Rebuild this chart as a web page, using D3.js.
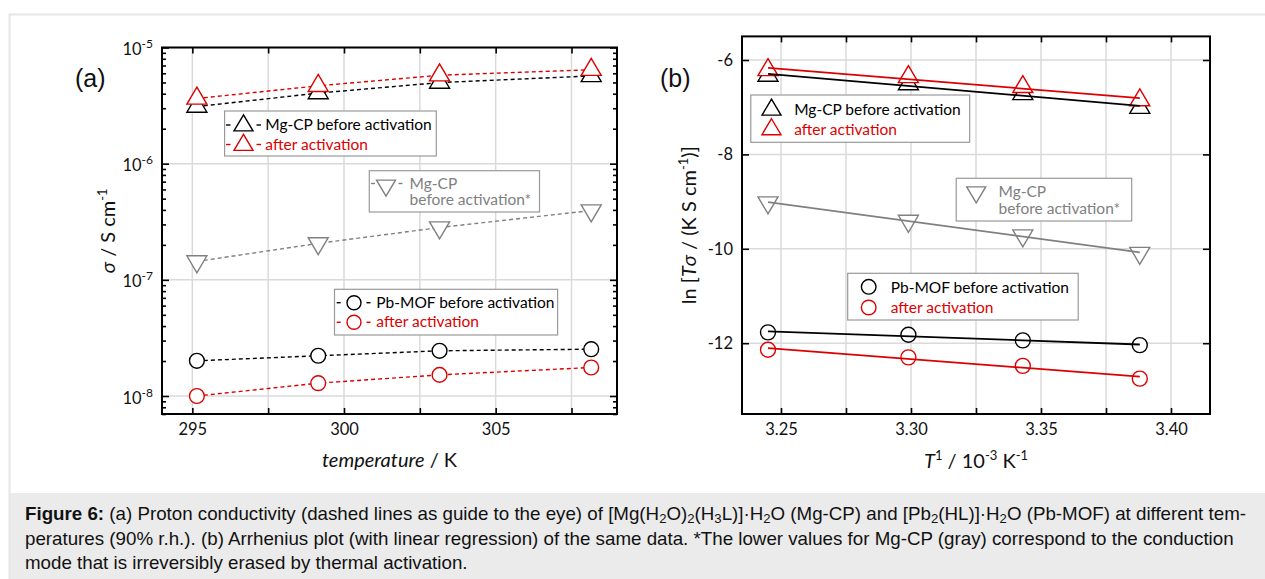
<!DOCTYPE html>
<html><head><meta charset="utf-8">
<script src="https://cdn.jsdelivr.net/npm/d3@7"></script>
<style>body{margin:0;background:#fff}svg{display:block}</style>
</head><body>
<svg id="c" width="1265" height="579"></svg>
<script>
// ---------- DATA ----------
// Panel (a): conductivity vs temperature
const temperature = [295.15, 299.15, 303.15, 308.15];
const sigmaMgBefore = [3.10e-6, 4.05e-6, 4.99e-6, 5.69e-6];
const sigmaMgAfter  = [3.64e-6, 4.68e-6, 5.77e-6, 6.44e-6];
const sigmaMgStar   = [1.44e-7, 2.06e-7, 2.82e-7, 3.95e-7];
const sigmaPbBefore = [2.01e-8, 2.22e-8, 2.45e-8, 2.53e-8];
const sigmaPbAfter  = [1.00e-8, 1.29e-8, 1.52e-8, 1.76e-8];
const xTicksA = [295, 297.5, 300, 302.5, 305, 307.5];
const xLabelsA = {295: "295", 300: "300", 305: "305"};
const yMajorA = [1e-8, 1e-7, 1e-6, 1e-5];
const yExpA = ["-8", "-7", "-6", "-5"];
// Panel (b): Arrhenius plot
const invT = [3.245, 3.299, 3.343, 3.388];
const lnMgBefore = [-6.33, -6.51, -6.72, -7.01];
const lnMgAfter  = [-6.21, -6.36, -6.57, -6.85];
const lnMgStar   = [-9.02, -9.41, -9.72, -10.09];
const lnPbBefore = [-11.77, -11.82, -11.94, -12.04];
const lnPbAfter  = [-12.14, -12.30, -12.48, -12.75];
const xTicksB = [3.25, 3.275, 3.30, 3.325, 3.35, 3.375, 3.40];
const xLabelsB = {"3.25": "3.25", "3.3": "3.30", "3.35": "3.35", "3.4": "3.40"};
const yTicksB = [-6, -8, -10, -12];
const yLabelsB = ["-6", "-8", "-10", "-12"];
// Caption
const captionLines = [
  [["Figure 6:", "b"], [" (a) Proton conductivity (dashed lines as guide to the eye) of [Mg(H"], ["2", "s"], ["O)"], ["2", "s"], ["(H"], ["3", "s"], ["L)]·H"], ["2", "s"], ["O (Mg-CP) and [Pb"], ["2", "s"], ["(HL)]·H"], ["2", "s"], ["O (Pb-MOF) at different tem-"]],
  [["peratures (90% r.h.). (b) Arrhenius plot (with linear regression) of the same data. *The lower values for Mg-CP (gray) correspond to the conduction"]],
  [["mode that is irreversibly erased by thermal activation."]]
];

// ---------- STYLE ----------
const RED = "#dc0000", GRAY = "#808080", BLACK = "#000";
const FONT = "Lato, 'Open Sans', sans-serif";
const GRID = "#dadada";

const svg = d3.select("#c");
svg.append("rect").attr("x", 9).attr("y", 493).attr("width", 1256).attr("height", 86).attr("fill", "#ebebeb");
svg.append("path").attr("d", "M9.5,579V14.5H1265").attr("fill", "none").attr("stroke", "#e6e6e6").attr("stroke-width", 2);

function triPath(x, y, up, w, h) {
  if (up) return `M${x},${y - 2 * h / 3}L${x + w / 2},${y + h / 3}L${x - w / 2},${y + h / 3}Z`;
  return `M${x},${y + 2 * h / 3}L${x + w / 2},${y - h / 3}L${x - w / 2},${y - h / 3}Z`;
}
function marker(g, x, y, type, color, w = 20, h = 17, r = 7.4) {
  if (type === "circle") {
    g.append("circle").attr("cx", x).attr("cy", y).attr("r", r)
      .attr("fill", "#fff").attr("stroke", color).attr("stroke-width", 1.4);
  } else {
    g.append("path").attr("d", triPath(x, y, type === "up", w, h))
      .attr("fill", "#fff").attr("stroke", color).attr("stroke-width", 1.4).attr("stroke-linejoin", "miter");
  }
}
function styleAxis(g) {
  g.select(".domain").remove();
  g.selectAll(".tick line").attr("stroke", "#000").attr("stroke-width", 1.6);
  g.selectAll(".tick text").attr("font-family", FONT).attr("font-size", 16.5).attr("fill", "#111");
}
function legendBox(g, x0, y0, x1, y1) {
  g.append("rect").attr("x", x0).attr("y", y0).attr("width", x1 - x0).attr("height", y1 - y0)
    .attr("fill", "#fff").attr("stroke", "#9a9a9a").attr("stroke-width", 1.2);
}
function legendText(g, x, y, txt, color) {
  g.append("text").attr("x", x).attr("y", y).attr("font-family", FONT).attr("font-size", 15.5)
    .attr("fill", color).text(txt);
}
function dashPair(g, xs, y, color) {
  xs.forEach(([a, b]) => g.append("line").attr("x1", a).attr("x2", b).attr("y1", y).attr("y2", y)
    .attr("stroke", color).attr("stroke-width", 1.4));
}

// ================= PANEL A =================
const A = {l: 162, r: 617, t: 47.5, b: 414};
const xA = d3.scaleLinear().domain([294, 309]).range([A.l, A.r]);
const yA = d3.scaleLog().domain([7e-9, 1e-5]).range([A.b, A.t]);
const gA = svg.append("g");

// grid
gA.selectAll(".vg").data(xTicksA).join("line")
  .attr("x1", d => xA(d)).attr("x2", d => xA(d)).attr("y1", A.t).attr("y2", A.b)
  .attr("stroke", GRID).attr("stroke-width", 1.5);
gA.selectAll(".hg").data(yMajorA).join("line")
  .attr("x1", A.l).attr("x2", A.r).attr("y1", d => yA(d)).attr("y2", d => yA(d))
  .attr("stroke", GRID).attr("stroke-width", 1.5);

// axes
const axB = gA.append("g").attr("transform", `translate(0,${A.b})`)
  .call(d3.axisBottom(xA).tickValues(xTicksA).tickSizeInner(-6).tickSizeOuter(0).tickPadding(9)
    .tickFormat(d => xLabelsA[d] || ""));
styleAxis(axB);
axB.selectAll(".tick text").attr("dy", "0.75em");
styleAxis(gA.append("g").attr("transform", `translate(0,${A.t})`)
  .call(d3.axisTop(xA).tickValues(xTicksA).tickSizeInner(-6).tickSizeOuter(0).tickFormat("")));
const minorA = yA.ticks().filter(v => !yMajorA.some(m => Math.abs(m - v) / m < 1e-6));
const axL = gA.append("g").attr("transform", `translate(${A.l},0)`)
  .call(d3.axisLeft(yA).tickValues(yMajorA).tickSizeInner(-7).tickSizeOuter(0).tickPadding(22).tickFormat(() => ""));
styleAxis(axL);
axL.selectAll(".tick text").each(function (d, i) {
  const t = d3.select(this);
  t.attr("text-anchor", "end").attr("dy", null).attr("y", 7).attr("x", -9);
  t.text("10");
  t.append("tspan").attr("dy", -7).attr("font-size", 12).text(yExpA[i]);
});
styleAxis(gA.append("g").attr("transform", `translate(${A.l},0)`)
  .call(d3.axisLeft(yA).tickValues(minorA).tickSizeInner(-4).tickSizeOuter(0).tickFormat("")));
styleAxis(gA.append("g").attr("transform", `translate(${A.r},0)`)
  .call(d3.axisRight(yA).tickValues(yMajorA).tickSizeInner(-7).tickSizeOuter(0).tickFormat("")));
styleAxis(gA.append("g").attr("transform", `translate(${A.r},0)`)
  .call(d3.axisRight(yA).tickValues(minorA).tickSizeInner(-4).tickSizeOuter(0).tickFormat("")));

const seriesA = [
  {v: sigmaMgStar, c: GRAY, m: "down"},
  {v: sigmaPbBefore, c: BLACK, m: "circle"},
  {v: sigmaPbAfter, c: RED, m: "circle"},
  {v: sigmaMgBefore, c: BLACK, m: "up"},
  {v: sigmaMgAfter, c: RED, m: "up"}
];
const lineA = d3.line().x(d => xA(d[0])).y(d => yA(d[1]));
seriesA.forEach(s => {
  gA.append("path").attr("d", lineA(temperature.map((t, i) => [t, s.v[i]])))
    .attr("fill", "none").attr("stroke", s.c).attr("stroke-width", 1.4).attr("stroke-dasharray", "4,3");
});
seriesA.forEach(s => temperature.forEach((t, i) => marker(gA, xA(t), yA(s.v[i]), s.m, s.c)));

// frame
gA.append("rect").attr("x", A.l).attr("y", A.t).attr("width", A.r - A.l).attr("height", A.b - A.t)
  .attr("fill", "none").attr("stroke", "#000").attr("stroke-width", 2);

// legends A
legendBox(gA, 224.6, 111, 436.3, 156);
dashPair(gA, [[226, 230.5], [256.5, 261]], 125, BLACK); marker(gA, 243.5, 125.5, "up", BLACK, 19, 16);
legendText(gA, 265.3, 130, "Mg-CP before activation", BLACK);
dashPair(gA, [[226, 230.5], [256.5, 261]], 144.5, RED); marker(gA, 243.5, 145, "up", RED, 19, 16);
legendText(gA, 265.3, 149.5, "after activation", RED);

legendBox(gA, 369.3, 170.7, 539.5, 212);
dashPair(gA, [[371, 375], [398.5, 402.5]], 183.5, GRAY); marker(gA, 386, 185.5, "down", GRAY, 19, 16);
legendText(gA, 409.6, 188.5, "Mg-CP", GRAY);
legendText(gA, 409.6, 204.5, "before activation*", GRAY);

legendBox(gA, 334.5, 289.3, 557.6, 335);
dashPair(gA, [[336.7, 340.7], [366.5, 370.5]], 302.7, BLACK); marker(gA, 354, 302.7, "circle", BLACK, 0, 0, 7);
legendText(gA, 376.3, 308, "Pb-MOF before activation", BLACK);
dashPair(gA, [[336.7, 340.7], [366.5, 370.5]], 322.3, RED); marker(gA, 354, 322.3, "circle", RED, 0, 0, 7);
legendText(gA, 376.3, 327.3, "after activation", RED);

// titles A
const TITLE = 20;
const tA = gA.append("text").attr("x", (A.l + A.r) / 2).attr("y", 467).attr("text-anchor", "middle")
  .attr("font-family", FONT).attr("font-size", TITLE).attr("fill", "#111");
tA.append("tspan").attr("font-style", "italic").text("temperature");
tA.append("tspan").text(" / K");
const yTA = gA.append("text").attr("transform", `translate(115,${(A.t + A.b) / 2}) rotate(-90)`)
  .attr("text-anchor", "middle").attr("font-family", FONT).attr("font-size", TITLE).attr("fill", "#111");
yTA.append("tspan").attr("font-style", "italic").text("σ");
yTA.append("tspan").text(" / S cm");
yTA.append("tspan").attr("dy", -8).attr("font-size", 13).text("-1");
svg.append("text").attr("x", 75).attr("y", 87).attr("font-family", "'Liberation Sans', Arial, sans-serif")
  .attr("font-size", 25).attr("fill", "#111").text("(a)");

// ================= PANEL B =================
const B = {l: 742, r: 1210, t: 36.4, b: 414};
const xB = d3.scaleLinear().domain([3.235, 3.415]).range([B.l, B.r]);
const yB = d3.scaleLinear().domain([-13.5, -5.5]).range([B.b, B.t]);
const gB = svg.append("g");

gB.selectAll(".vg").data(xTicksB).join("line")
  .attr("x1", d => xB(d)).attr("x2", d => xB(d)).attr("y1", B.t).attr("y2", B.b)
  .attr("stroke", GRID).attr("stroke-width", 1.5);
gB.selectAll(".hg").data(yTicksB).join("line")
  .attr("x1", B.l).attr("x2", B.r).attr("y1", d => yB(d)).attr("y2", d => yB(d))
  .attr("stroke", GRID).attr("stroke-width", 1.5);

const bxB = gB.append("g").attr("transform", `translate(0,${B.b})`)
  .call(d3.axisBottom(xB).tickValues(xTicksB).tickSizeInner(-6).tickSizeOuter(0).tickPadding(9)
    .tickFormat(d => xLabelsB[String(+d.toFixed(3))] || ""));
styleAxis(bxB);
bxB.selectAll(".tick text").attr("dy", "0.75em");
styleAxis(gB.append("g").attr("transform", `translate(0,${B.t})`)
  .call(d3.axisTop(xB).tickValues(xTicksB).tickSizeInner(-6).tickSizeOuter(0).tickFormat("")));
const lyB = gB.append("g").attr("transform", `translate(${B.l},0)`)
  .call(d3.axisLeft(yB).tickValues(yTicksB).tickSizeInner(-7).tickSizeOuter(0).tickPadding(9)
    .tickFormat((d, i) => yLabelsB[i]));
styleAxis(lyB);
styleAxis(gB.append("g").attr("transform", `translate(${B.r},0)`)
  .call(d3.axisRight(yB).tickValues(yTicksB).tickSizeInner(-7).tickSizeOuter(0).tickFormat("")));

function linfit(xs, ys) {
  const mx = d3.mean(xs), my = d3.mean(ys);
  const sxy = d3.sum(xs, (x, i) => (x - mx) * (ys[i] - my));
  const sxx = d3.sum(xs, x => (x - mx) * (x - mx));
  const k = sxy / sxx;
  return x => my + k * (x - mx);
}
const seriesB = [
  {v: lnMgStar, c: GRAY, m: "down"},
  {v: lnPbBefore, c: BLACK, m: "circle"},
  {v: lnPbAfter, c: RED, m: "circle"},
  {v: lnMgBefore, c: BLACK, m: "up"},
  {v: lnMgAfter, c: RED, m: "up"}
];
seriesB.forEach(s => invT.forEach((x, i) => marker(gB, xB(x), yB(s.v[i]), s.m, s.c, 20, 17, 7.5)));
seriesB.forEach(s => {
  const f = linfit(invT, s.v);
  const x0 = invT[0], x1 = invT[invT.length - 1];
  gB.append("line").attr("x1", xB(x0)).attr("y1", yB(f(x0))).attr("x2", xB(x1)).attr("y2", yB(f(x1)))
    .attr("stroke", s.c).attr("stroke-width", 1.8);
});
gB.append("rect").attr("x", B.l).attr("y", B.t).attr("width", B.r - B.l).attr("height", B.b - B.t)
  .attr("fill", "none").attr("stroke", "#000").attr("stroke-width", 2);

// legends B
legendBox(gB, 750.8, 95, 969.7, 142.3);
marker(gB, 771.5, 109.8, "up", BLACK, 19, 16);
legendText(gB, 794.2, 115, "Mg-CP before activation", BLACK);
marker(gB, 771.5, 129.4, "up", RED, 19, 16);
legendText(gB, 794.2, 134.5, "after activation", RED);

legendBox(gB, 956.2, 178.3, 1131.7, 221);
marker(gB, 976.2, 192.2, "down", GRAY, 19, 16);
legendText(gB, 998.5, 196.7, "Mg-CP", GRAY);
legendText(gB, 998.5, 214.3, "before activation*", GRAY);

legendBox(gB, 847.7, 273.3, 1078.2, 320);
marker(gB, 868.7, 286.8, "circle", BLACK, 0, 0, 7.3);
legendText(gB, 890.7, 293, "Pb-MOF before activation", BLACK);
marker(gB, 868.7, 307.5, "circle", RED, 0, 0, 7.3);
legendText(gB, 890.7, 312.7, "after activation", RED);

// titles B
const tB = gB.append("text").attr("x", (B.l + B.r) / 2).attr("y", 468).attr("text-anchor", "middle")
  .attr("font-family", FONT).attr("font-size", TITLE).attr("fill", "#111");
tB.append("tspan").attr("font-style", "italic").text("T");
tB.append("tspan").attr("dy", -8).attr("font-size", 13).text("1");
tB.append("tspan").attr("dy", 8).text(" / 10");
tB.append("tspan").attr("dy", -8).attr("font-size", 13).text("-3");
tB.append("tspan").attr("dy", 8).text(" K");
tB.append("tspan").attr("dy", -8).attr("font-size", 13).text("-1");
const yTB = gB.append("text").attr("transform", `translate(696,${(B.t + B.b) / 2}) rotate(-90)`)
  .attr("text-anchor", "middle").attr("font-family", FONT).attr("font-size", TITLE).attr("fill", "#111");
yTB.append("tspan").text("ln [");
yTB.append("tspan").attr("font-style", "italic").text("Tσ");
yTB.append("tspan").text(" / (K S cm");
yTB.append("tspan").attr("dy", -8).attr("font-size", 13).text("-1");
yTB.append("tspan").attr("dy", 8).text(")]");
svg.append("text").attr("x", 660).attr("y", 87).attr("font-family", "'Liberation Sans', Arial, sans-serif")
  .attr("font-size", 25).attr("fill", "#111").text("(b)");

// ================= CAPTION =================
const capG = svg.append("g");
let capSize = 16;
const capTexts = captionLines.map((segs, li) => {
  const t = capG.append("text").attr("x", 25).attr("y", 520 + li * 24.5)
    .attr("font-family", "'Liberation Sans', Arial, Helvetica, sans-serif").attr("font-size", capSize).attr("fill", "#111");
  let off = 0;
  segs.forEach(([s, st]) => {
    const sp = t.append("tspan").text(s);
    if (st === "b") sp.attr("font-weight", "bold");
    if (st === "s") { sp.attr("font-size", "0.7em").attr("dy", 3 - off); off = 3; }
    else if (off) { sp.attr("dy", -off); off = 0; }
  });
  return t;
});
const w1 = capTexts[0].node().getComputedTextLength();
capSize = capSize * 1222 / w1;
capTexts.forEach(t => t.attr("font-size", capSize));
</script></body></html>
